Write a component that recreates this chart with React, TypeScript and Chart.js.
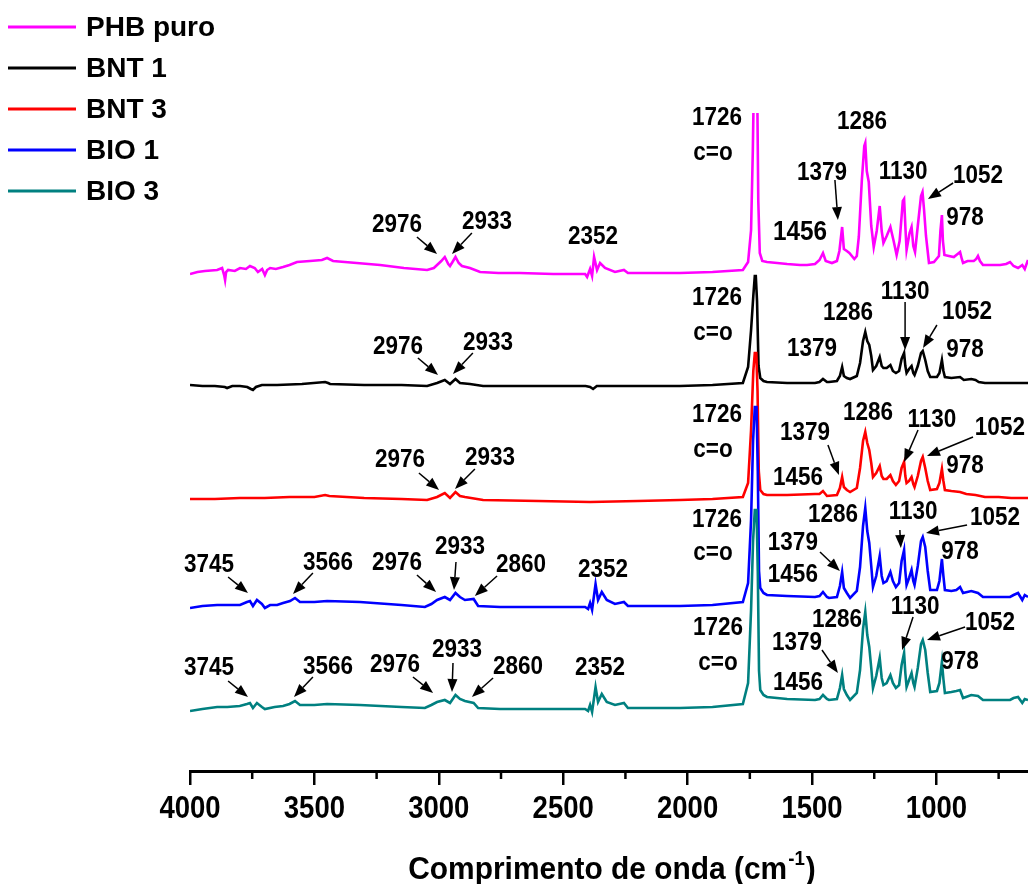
import React, { useEffect, useRef } from 'react';
import { Chart, registerables } from 'chart.js';

Chart.register(...registerables);

// ---------- data ----------
const seriesNames = ['PHB puro', 'BNT 1', 'BNT 3', 'BIO 1', 'BIO 3'];
const seriesColors = ['#FF00FF', '#000000', '#FF0000', '#0000FF', '#008080'];
const xTicks = [4000, 3500, 3000, 2500, 2000, 1500, 1000];
const minorTicks = [3750, 3250, 2750, 2250, 1750, 1250, 750];
const xTitle = 'Comprimento de onda (cm';
const xTitleSup = '-1';

type P = [number, number];

const phbPuro: P[] = [
  [4000, 497], [3970, 499], [3940, 500], [3891, 501], [3871, 503], [3862, 495], [3859, 491], [3855, 499], [3847, 501],
  [3820, 500], [3799, 503], [3775, 502], [3759, 505], [3740, 503], [3727, 499], [3710, 502], [3699, 496], [3690, 501],
  [3678, 503], [3655, 502], [3626, 504], [3600, 506], [3570, 509], [3518, 510], [3470, 511], [3449, 513], [3425, 510],
  [3330, 508], [3236, 506], [3140, 503], [3047, 501], [3020, 503], [3007, 506], [2990, 510], [2976, 514], [2962, 507],
  [2955, 505], [2945, 509], [2933, 514], [2920, 508], [2907, 505], [2875, 503], [2834, 499], [2760, 498], [2674, 498],
  [2540, 497], [2412, 497], [2404, 494], [2392, 502], [2384, 495], [2376, 514], [2364, 501], [2352, 508], [2332, 503],
  [2292, 499], [2256, 501], [2240, 498], [2100, 498], [2031, 498], [1900, 499], [1778, 501],
  [1757, 509], [1745, 541], [1738, 620], [1733, 700], [1721, 700], [1716, 570], [1710, 518], [1700, 510], [1681, 509],
  [1640, 508], [1600, 507], [1548, 506], [1520, 506], [1488, 507], [1470, 511], [1456, 518], [1445, 510], [1420, 508],
  [1400, 510], [1390, 520], [1379, 544], [1372, 522], [1360, 520], [1350, 518], [1330, 512], [1320, 515], [1312, 534],
  [1300, 590], [1290, 625], [1286, 628], [1280, 600], [1272, 589], [1262, 545], [1252, 524], [1240, 540], [1228, 565],
  [1220, 540], [1213, 528], [1200, 535], [1185, 544], [1172, 530], [1160, 516], [1148, 530], [1135, 570], [1130, 572],
  [1124, 540], [1120, 521], [1108, 538], [1100, 544], [1093, 525], [1086, 519], [1075, 545], [1062, 575], [1056, 579],
  [1050, 562], [1042, 535], [1030, 508], [1010, 509], [990, 515], [984, 540], [978, 556], [974, 530], [968, 516],
  [950, 515], [930, 514], [915, 517], [905, 519], [898, 512], [893, 508], [875, 510], [850, 510], [840, 512],
  [833, 515], [825, 510], [813, 506], [780, 506], [744, 506], [720, 507], [704, 509], [690, 505], [672, 503],
  [655, 506], [645, 502], [632, 511],
];

const bnt1: P[] = [
  [4000, 386], [3950, 385], [3900, 385], [3860, 384], [3851, 383], [3830, 385], [3799, 385], [3770, 384], [3755, 382],
  [3747, 381], [3735, 384], [3711, 386], [3650, 386], [3550, 387], [3457, 389], [3445, 388], [3437, 387], [3300, 386],
  [3150, 386], [3047, 385], [3007, 388], [2976, 391], [2955, 387], [2933, 392], [2915, 388], [2875, 387], [2822, 385],
  [2600, 385], [2410, 385], [2392, 384], [2380, 382], [2365, 385], [2352, 385], [2200, 385], [2031, 385], [1900, 386],
  [1778, 388], [1757, 404], [1745, 441], [1736, 475], [1730, 495], [1726, 495], [1721, 470], [1715, 405], [1708, 393],
  [1695, 390], [1681, 389], [1600, 388], [1488, 388], [1470, 389], [1456, 392], [1440, 389], [1432, 389], [1400, 390],
  [1388, 395], [1379, 404], [1372, 395], [1360, 393], [1347, 392], [1320, 395], [1307, 408], [1295, 430], [1286, 439],
  [1278, 430], [1270, 426], [1262, 415], [1255, 401], [1242, 405], [1228, 414], [1220, 405], [1213, 403], [1200, 403],
  [1185, 406], [1175, 400], [1163, 398], [1150, 400], [1140, 412], [1130, 418], [1125, 405], [1120, 398], [1110, 402],
  [1100, 405], [1093, 398], [1088, 396], [1075, 405], [1062, 418], [1055, 420], [1045, 411], [1035, 400], [1025, 394],
  [998, 394], [988, 398], [978, 411], [972, 400], [966, 394], [940, 393], [905, 394], [890, 391], [860, 392],
  [843, 391], [830, 389], [805, 388], [750, 388], [700, 388], [632, 388],
];

const bnt3: P[] = [
  [4000, 272], [3900, 272], [3800, 273], [3700, 273], [3600, 274], [3500, 274], [3457, 276], [3440, 275], [3300, 273],
  [3150, 272], [3047, 271], [3007, 274], [2976, 278], [2955, 273], [2933, 279], [2915, 275], [2895, 274], [2822, 271],
  [2600, 270], [2392, 269], [2200, 270], [2031, 271], [1900, 272], [1778, 274], [1757, 288], [1745, 341], [1736, 400],
  [1730, 418], [1724, 418], [1719, 380], [1714, 300], [1708, 281], [1695, 277], [1681, 276], [1600, 276], [1488, 277],
  [1470, 277], [1456, 280], [1440, 275], [1400, 276], [1388, 283], [1379, 294], [1372, 284], [1360, 281], [1347, 279],
  [1320, 283], [1307, 303], [1295, 330], [1286, 339], [1278, 328], [1270, 321], [1262, 308], [1255, 294], [1242, 298],
  [1228, 305], [1220, 295], [1213, 292], [1200, 292], [1185, 296], [1175, 290], [1163, 286], [1150, 290], [1140, 303],
  [1130, 309], [1125, 295], [1120, 288], [1110, 290], [1100, 294], [1093, 287], [1088, 284], [1075, 295], [1062, 310],
  [1055, 314], [1045, 303], [1035, 290], [1025, 281], [998, 282], [988, 288], [978, 302], [972, 290], [966, 281],
  [940, 280], [905, 279], [880, 277], [843, 276], [805, 274], [750, 274], [700, 273], [632, 273],
];

const bio1: P[] = [
  [4000, 163], [3950, 165], [3891, 166], [3850, 166], [3799, 166], [3771, 169], [3759, 170], [3747, 165], [3731, 171],
  [3711, 167], [3699, 163], [3678, 166], [3650, 166], [3626, 168], [3598, 170], [3578, 173], [3558, 169], [3500, 169],
  [3449, 170], [3317, 169], [3150, 166], [3056, 164], [3030, 167], [3007, 171], [2976, 174], [2955, 171], [2933, 178],
  [2915, 174], [2895, 171], [2860, 172], [2842, 165], [2754, 164], [2600, 164], [2412, 164], [2400, 162], [2392, 168],
  [2384, 161], [2370, 187], [2360, 171], [2345, 179], [2325, 171], [2292, 167], [2256, 169], [2240, 165], [2100, 165],
  [2031, 165], [1900, 166], [1778, 169], [1757, 188], [1745, 251], [1737, 330], [1730, 364], [1723, 364], [1718, 300],
  [1713, 200], [1708, 183], [1695, 178], [1681, 176], [1600, 175], [1488, 174], [1470, 175], [1456, 179], [1440, 174],
  [1432, 173], [1400, 174], [1388, 185], [1379, 199], [1372, 183], [1360, 178], [1347, 173], [1320, 180], [1307, 204],
  [1295, 245], [1286, 263], [1278, 240], [1270, 228], [1262, 205], [1255, 184], [1242, 195], [1228, 215], [1220, 195],
  [1213, 188], [1200, 190], [1185, 199], [1175, 190], [1163, 184], [1150, 188], [1140, 210], [1130, 221], [1125, 200],
  [1120, 186], [1110, 193], [1100, 201], [1093, 190], [1088, 186], [1075, 205], [1062, 230], [1055, 234], [1045, 224],
  [1035, 200], [1025, 181], [998, 181], [988, 190], [978, 212], [972, 195], [966, 181], [940, 180], [920, 181],
  [905, 184], [893, 178], [860, 180], [833, 178], [813, 174], [760, 174], [704, 174], [690, 176], [672, 178],
  [655, 171], [645, 176], [632, 174],
];

const bio3: P[] = [
  [4000, 60], [3950, 62], [3891, 64], [3850, 64], [3800, 65], [3771, 67], [3759, 68], [3747, 63], [3731, 68],
  [3711, 64], [3699, 62], [3660, 64], [3626, 65], [3600, 67], [3578, 70], [3558, 66], [3500, 66], [3449, 67],
  [3317, 66], [3150, 64], [3056, 63], [3030, 66], [3007, 69], [2976, 71], [2955, 68], [2933, 76], [2915, 72],
  [2895, 70], [2860, 68], [2842, 63], [2754, 62], [2600, 62], [2412, 62], [2400, 60], [2392, 66], [2384, 59],
  [2370, 84], [2360, 69], [2345, 77], [2325, 69], [2292, 66], [2256, 68], [2240, 63], [2100, 63], [2031, 63],
  [1900, 64], [1778, 67], [1757, 88], [1745, 161], [1737, 230], [1730, 261], [1723, 261], [1718, 200], [1713, 100],
  [1708, 81], [1695, 76], [1681, 74], [1600, 72], [1488, 71], [1470, 72], [1456, 76], [1440, 72], [1432, 71],
  [1400, 72], [1388, 83], [1379, 96], [1372, 82], [1360, 76], [1347, 71], [1320, 78], [1307, 101], [1295, 142],
  [1286, 159], [1278, 136], [1270, 124], [1262, 103], [1255, 83], [1242, 95], [1228, 113], [1220, 93], [1213, 86],
  [1200, 88], [1185, 96], [1175, 88], [1163, 83], [1150, 86], [1140, 106], [1130, 118], [1125, 98], [1120, 84],
  [1110, 91], [1100, 98], [1093, 88], [1088, 84], [1075, 103], [1062, 127], [1055, 131], [1045, 121], [1035, 98],
  [1025, 79], [998, 80], [988, 88], [978, 109], [972, 92], [966, 78], [940, 79], [920, 80], [905, 81],
  [893, 73], [860, 76], [833, 75], [813, 71], [760, 71], [704, 71], [690, 73], [672, 74], [655, 68],
  [645, 72], [632, 71],
];

const seriesData: P[][] = [phbPuro, bnt1, bnt3, bio1, bio3];

// peak labels: [text, wavenumber, intensity, fontSize]
type Label = [string, number, number, number];
const peakLabels: Label[] = [
  // PHB puro
  ['1726', 1882, 653, 25], ['c=o', 1898, 618, 25], ['1286', 1299, 649, 25], ['1379', 1460, 598, 25],
  ['1130', 1134, 599, 25], ['1052', 833, 595, 25], ['978', 885, 553, 25], ['1456', 1548, 538, 27],
  ['2976', 3168, 546, 25], ['2933', 2806, 549, 25], ['2352', 2380, 534, 25],
  // BNT 1
  ['1726', 1882, 473, 25], ['c=o', 1898, 438, 25], ['1286', 1355, 458, 25], ['1379', 1500, 422, 25],
  ['1130', 1126, 479, 25], ['1052', 877, 459, 25], ['978', 885, 421, 25],
  ['2976', 3164, 424, 25], ['2933', 2802, 428, 25],
  // BNT 3
  ['1726', 1882, 356, 25], ['c=o', 1898, 321, 25], ['1286', 1275, 358, 25], ['1379', 1528, 338, 25],
  ['1130', 1018, 351, 25], ['1052', 745, 343, 25], ['978', 885, 305, 25], ['1456', 1556, 293, 25],
  ['2976', 3156, 311, 25], ['2933', 2794, 313, 25],
  // BIO 1
  ['1726', 1882, 251, 25], ['c=o', 1898, 218, 25], ['1286', 1416, 256, 25], ['1130', 1094, 259, 25],
  ['1052', 765, 253, 25], ['1379', 1577, 228, 25], ['1456', 1577, 196, 25], ['978', 905, 219, 25],
  ['3745', 3924, 206, 25], ['3566', 3445, 208, 25], ['2976', 3168, 208, 25], ['2933', 2915, 224, 25],
  ['2860', 2670, 206, 25], ['2352', 2340, 201, 25],
  // BIO 3
  ['1726', 1878, 143, 25], ['c=o', 1878, 108, 25], ['1286', 1400, 151, 25], ['1130', 1086, 164, 25],
  ['1052', 785, 148, 25], ['1379', 1560, 128, 25], ['1456', 1556, 88, 25], ['978', 905, 109, 25],
  ['3745', 3924, 103, 25], ['3566', 3445, 104, 25], ['2976', 3176, 106, 25], ['2933', 2927, 121, 25],
  ['2860', 2682, 104, 25], ['2352', 2352, 103, 25],
];

// arrows: [fromWn, fromI, toWn, toI]
type Arrow = [number, number, number, number];
const peakArrows: Arrow[] = [
  [1408, 591, 1396, 551], [933, 588, 1034, 572], [3088, 534, 3007, 517], [2867, 538, 2947, 517],
  [1126, 469, 1126, 421], [998, 446, 1054, 423], [3084, 413, 3003, 396], [2863, 418, 2943, 397],
  [1436, 326, 1392, 296], [1074, 341, 1130, 309], [853, 334, 1038, 315], [3080, 298, 2999, 281], [2855, 302, 2935, 282],
  [1147, 241, 1143, 223], [877, 246, 1042, 238], [1468, 219, 1388, 200], [3847, 194, 3767, 178], [3506, 198, 3586, 177],
  [3088, 196, 3011, 179], [2931, 209, 2939, 181], [2766, 195, 2855, 175],
  [1094, 154, 1138, 121], [885, 144, 1038, 131], [1460, 121, 1396, 98], [3847, 90, 3767, 74], [3506, 94, 3582, 74],
  [3104, 94, 3023, 78], [2943, 108, 2947, 79], [2782, 93, 2867, 74],
];

const SANS = "'Liberation Sans', Arial, Helvetica, sans-serif";

function scaledText(ctx: CanvasRenderingContext2D, t: string, x: number, y: number, sx: number) {
  ctx.save();
  ctx.translate(x, y);
  ctx.scale(sx, 1);
  ctx.fillText(t, 0, 0);
  ctx.restore();
}

const overlayPlugin = {
  id: 'overlay',
  afterDraw(chart: any) {
    const ctx: CanvasRenderingContext2D = chart.ctx;
    const xs = chart.scales.x;
    const ys = chart.scales.y;
    const area = chart.chartArea;
    ctx.save();

    // minor ticks
    ctx.strokeStyle = '#000';
    ctx.lineWidth = 2.5;
    minorTicks.forEach((v) => {
      const px = xs.getPixelForValue(v);
      ctx.beginPath();
      ctx.moveTo(px, area.bottom);
      ctx.lineTo(px, area.bottom + 8);
      ctx.stroke();
    });

    // tick labels (slightly condensed bold)
    ctx.fillStyle = '#000';
    ctx.font = `bold 32px ${SANS}`;
    ctx.textAlign = 'center';
    ctx.textBaseline = 'alphabetic';
    xTicks.forEach((v) => {
      scaledText(ctx, String(v), xs.getPixelForValue(v), area.bottom + 47, 0.86);
    });

    // axis title with superscript
    const tsx = 0.935;
    const cx = (area.left + area.right) / 2 + 3;
    const baseY = 879;
    const mainFont = `bold 32px ${SANS}`;
    const supFont = `bold 20px ${SANS}`;
    ctx.textAlign = 'left';
    ctx.font = mainFont;
    const w1 = ctx.measureText(xTitle).width * tsx;
    const w3 = ctx.measureText(')').width * tsx;
    ctx.font = supFont;
    const w2 = ctx.measureText(xTitleSup).width * tsx;
    const total = w1 + w2 + w3 + 2;
    let sx = cx - total / 2;
    ctx.font = mainFont;
    scaledText(ctx, xTitle, sx, baseY, tsx);
    sx += w1 + 1;
    ctx.font = supFont;
    scaledText(ctx, xTitleSup, sx, baseY - 14, tsx);
    sx += w2 + 1;
    ctx.font = mainFont;
    scaledText(ctx, ')', sx, baseY, tsx);

    // legend
    seriesNames.forEach((name, i) => {
      const y = 27 + i * 41;
      ctx.strokeStyle = seriesColors[i];
      ctx.lineWidth = 3;
      ctx.beginPath();
      ctx.moveTo(8, y);
      ctx.lineTo(76, y);
      ctx.stroke();
      ctx.fillStyle = '#000';
      ctx.font = `bold 28px ${SANS}`;
      ctx.textAlign = 'left';
      ctx.textBaseline = 'middle';
      ctx.fillText(name, 86, y + 1);
    });

    // peak labels
    ctx.fillStyle = '#000';
    ctx.textAlign = 'center';
    ctx.textBaseline = 'middle';
    peakLabels.forEach(([t, wn, iv, size]) => {
      ctx.font = `bold ${size}px ${SANS}`;
      scaledText(ctx, t, xs.getPixelForValue(wn), ys.getPixelForValue(iv), 0.9);
    });

    // arrows
    ctx.strokeStyle = '#000';
    ctx.fillStyle = '#000';
    ctx.lineWidth = 1.5;
    peakArrows.forEach(([w0, i0, w1a, i1]) => {
      const x0 = xs.getPixelForValue(w0);
      const y0 = ys.getPixelForValue(i0);
      const x1 = xs.getPixelForValue(w1a);
      const y1 = ys.getPixelForValue(i1);
      const ang = Math.atan2(y1 - y0, x1 - x0);
      const hl = 13;
      const hw = 5;
      const bx = x1 - hl * Math.cos(ang);
      const by = y1 - hl * Math.sin(ang);
      ctx.beginPath();
      ctx.moveTo(x0, y0);
      ctx.lineTo(bx, by);
      ctx.stroke();
      ctx.beginPath();
      ctx.moveTo(x1, y1);
      ctx.lineTo(bx + hw * Math.sin(ang), by - hw * Math.cos(ang));
      ctx.lineTo(bx - hw * Math.sin(ang), by + hw * Math.cos(ang));
      ctx.closePath();
      ctx.fill();
    });

    ctx.restore();
  },
};

export default function App() {
  const canvasRef = useRef<HTMLCanvasElement | null>(null);

  useEffect(() => {
    document.body.style.margin = '0';
    const canvas = canvasRef.current;
    if (!canvas) return;
    const chart = new Chart(canvas, {
      type: 'line',
      data: {
        datasets: seriesData.map((d, i) => ({
          label: seriesNames[i],
          data: d.map(([x, y]) => ({ x, y })),
          borderColor: seriesColors[i],
          backgroundColor: seriesColors[i],
          borderWidth: 2.6,
          pointRadius: 0,
          tension: 0,
          fill: false,
          order: 4 - i,
        })),
      },
      options: {
        animation: false,
        responsive: false,
        maintainAspectRatio: false,
        layout: { padding: { left: 190, top: 113, right: 0, bottom: 0 } },
        plugins: {
          legend: { display: false },
          tooltip: { enabled: false },
          title: { display: false },
        },
        scales: {
          x: {
            type: 'linear',
            reverse: true,
            min: 632,
            max: 4000,
            afterBuildTicks: (s: any) => {
              s.ticks = xTicks.map((v) => ({ value: v }));
            },
            afterFit: (s: any) => {
              s.height = 113;
            },
            grid: {
              drawOnChartArea: false,
              drawTicks: true,
              tickLength: 14,
              color: '#000',
              lineWidth: 2.5,
            },
            border: { display: true, color: '#000', width: 3 },
            ticks: {
              color: 'rgba(0,0,0,0)',
              autoSkip: false,
              maxRotation: 0,
              padding: 5,
              font: { family: SANS, size: 30, weight: 'bold' },
              callback: (v: any) => String(v),
            },
          },
          y: {
            display: false,
            min: 0,
            max: 658,
          },
        },
      },
      plugins: [overlayPlugin],
    } as any);
    return () => chart.destroy();
  }, []);

  return (
    <div style={{ position: 'absolute', left: 0, top: 0, width: 1028, height: 884, background: '#fff' }}>
      <canvas ref={canvasRef} width={1028} height={884} style={{ display: 'block' }} />
    </div>
  );
}
